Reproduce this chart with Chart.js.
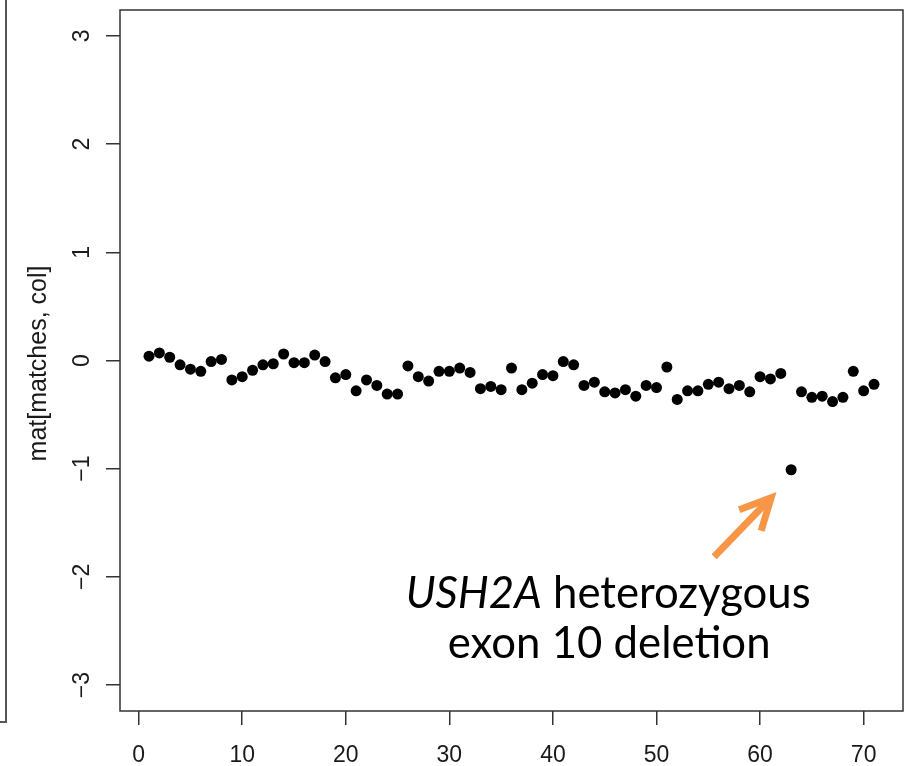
<!DOCTYPE html>
<html><head><meta charset="utf-8">
<script src="https://cdn.jsdelivr.net/npm/chart.js@4/dist/chart.umd.min.js"></script>
<style>html,body{margin:0;padding:0;background:#fff;}canvas{display:block}</style>
</head><body>
<canvas id="c" width="911" height="766"></canvas>
<script>
// ---- data ----
const indices = [1,2,3,4,5,6,7,8,9,10,11,12,13,14,15,16,17,18,19,20,21,22,23,24,25,26,27,28,29,30,31,32,33,34,35,36,37,38,39,40,41,42,43,44,45,46,47,48,49,50,51,52,53,54,55,56,57,58,59,60,61,62,63,64,65,66,67,68,69,70,71];
const values = [0.04,0.07,0.03,-0.04,-0.08,-0.10,-0.01,0.01,-0.18,-0.15,
  -0.09,-0.04,-0.03,0.06,-0.02,-0.02,0.05,-0.01,-0.16,-0.13,
  -0.28,-0.18,-0.23,-0.31,-0.31,-0.05,-0.15,-0.19,-0.10,-0.10,
  -0.07,-0.11,-0.26,-0.24,-0.27,-0.07,-0.27,-0.21,-0.13,-0.14,
  -0.01,-0.04,-0.23,-0.20,-0.29,-0.30,-0.27,-0.33,-0.23,-0.25,
  -0.06,-0.36,-0.28,-0.28,-0.22,-0.20,-0.26,-0.23,-0.29,-0.15,
  -0.17,-0.12,-1.01,-0.29,-0.34,-0.33,-0.38,-0.34,-0.10,-0.28,-0.22];
const xTicks = [0,10,20,30,40,50,60,70];
const yTicks = [-3,-2,-1,0,1,2,3];
const yTickLabels = ['\u22123','\u22122','\u22121','0','1','2','3'];
const yTitle = 'mat[matches, col]';
const noteItalic = 'USH2A';
const noteRest = ' heterozygous';
const noteLine2 = 'exon 10 deletion';
const highlightIndex = 63;

const AXIS_FONT = '"Liberation Sans", Arial, sans-serif';
const points = indices.map((x, i) => ({x: x, y: values[i]}));

const decor = {
  id: 'decor',
  afterDraw(chart) {
    const ctx = chart.ctx, ca = chart.chartArea;
    const xs = chart.scales.x, ys = chart.scales.y;
    ctx.save();
    // plot box
    ctx.strokeStyle = '#333';
    ctx.lineWidth = 1.5;
    ctx.strokeRect(ca.left, ca.top, ca.right - ca.left, ca.bottom - ca.top);
    // neighbouring panel edge
    ctx.strokeStyle = '#555';
    ctx.lineWidth = 2;
    ctx.beginPath();
    ctx.moveTo(6, 0); ctx.lineTo(6, 722); ctx.lineTo(0, 722);
    ctx.stroke();
    // y tick labels (rotated, R style)
    ctx.fillStyle = '#1a1a1a';
    ctx.font = '23px ' + AXIS_FONT;
    ctx.textAlign = 'center';
    ctx.textBaseline = 'alphabetic';
    yTicks.forEach((v, i) => {
      const py = ys.getPixelForValue(v);
      ctx.save();
      ctx.translate(88.5, py);
      ctx.rotate(-Math.PI / 2);
      ctx.fillText(yTickLabels[i], 0, 0);
      ctx.restore();
    });
    // y title
    ctx.save();
    ctx.font = '25px ' + AXIS_FONT;
    ctx.translate(45.5, (ca.top + ca.bottom) / 2 + 3);
    ctx.rotate(-Math.PI / 2);
    ctx.fillText(yTitle, 0, 0);
    ctx.restore();

    // annotation
    const px = xs.getPixelForValue(highlightIndex);
    const py = ys.getPixelForValue(values[highlightIndex - 1]);
    const fam = 'Lato, "Open Sans", sans-serif';
    let size = 40;
    ctx.font = 'italic ' + size + 'px ' + fam;
    let w1 = ctx.measureText(noteItalic).width;
    ctx.font = size + 'px ' + fam;
    let w2 = ctx.measureText(noteRest).width;
    size = size * 405 / (w1 + w2);
    ctx.font = 'italic ' + size + 'px ' + fam;
    w1 = ctx.measureText(noteItalic).width;
    ctx.font = size + 'px ' + fam;
    w2 = ctx.measureText(noteRest).width;
    const cx = px - 183;
    const base1 = py + 138;
    ctx.fillStyle = '#000';
    ctx.textAlign = 'left';
    let sx = cx - (w1 + w2) / 2;
    ctx.font = 'italic ' + size + 'px ' + fam;
    ctx.fillText(noteItalic, sx, base1);
    ctx.font = size + 'px ' + fam;
    ctx.fillText(noteRest, sx + w1, base1);
    ctx.textAlign = 'center';
    ctx.fillText(noteLine2, cx + 1, base1 + 50);

    // arrow
    const tipX = px - 20, tipY = py + 28;
    ctx.strokeStyle = 'rgb(247,150,70)';
    ctx.lineWidth = 7;
    ctx.lineCap = 'butt';
    ctx.lineJoin = 'miter';
    ctx.beginPath();
    ctx.moveTo(px - 77, py + 87);
    ctx.lineTo(tipX - 2, tipY + 2);
    ctx.stroke();
    ctx.beginPath();
    ctx.moveTo(tipX - 32, tipY + 12);
    ctx.lineTo(tipX, tipY);
    ctx.lineTo(tipX - 10, tipY + 33);
    ctx.stroke();
    ctx.restore();
  }
};

new Chart(document.getElementById('c'), {
  type: 'scatter',
  data: {
    datasets: [{
      data: points,
      backgroundColor: '#000',
      borderColor: '#000',
      borderWidth: 0,
      pointRadius: 5.5,
      pointHoverRadius: 5.5
    }]
  },
  options: {
    responsive: false,
    animation: false,
    events: [],
    layout: {padding: {left: 0, top: 10, right: 8, bottom: 0}},
    plugins: {legend: {display: false}, tooltip: {enabled: false}},
    scales: {
      x: {
        type: 'linear',
        min: -1.8, max: 73.8,
        afterBuildTicks: s => { s.ticks = xTicks.map(v => ({value: v})); },
        afterFit: s => { s.height = 55; },
        grid: {drawOnChartArea: false, drawTicks: true, tickLength: 14, color: '#333', lineWidth: 1.5},
        border: {display: false},
        ticks: {color: '#1a1a1a', font: {family: AXIS_FONT, size: 23}, padding: 17, maxRotation: 0, minRotation: 0,
          callback: v => String(v)}
      },
      y: {
        type: 'linear',
        min: -3.24, max: 3.24,
        afterBuildTicks: s => { s.ticks = yTicks.map(v => ({value: v})); },
        afterFit: s => { s.width = 120; },
        grid: {drawOnChartArea: false, drawTicks: true, tickLength: 14, color: '#333', lineWidth: 1.5},
        border: {display: false},
        ticks: {display: false}
      }
    }
  },
  plugins: [decor]
});
</script>
</body></html>
